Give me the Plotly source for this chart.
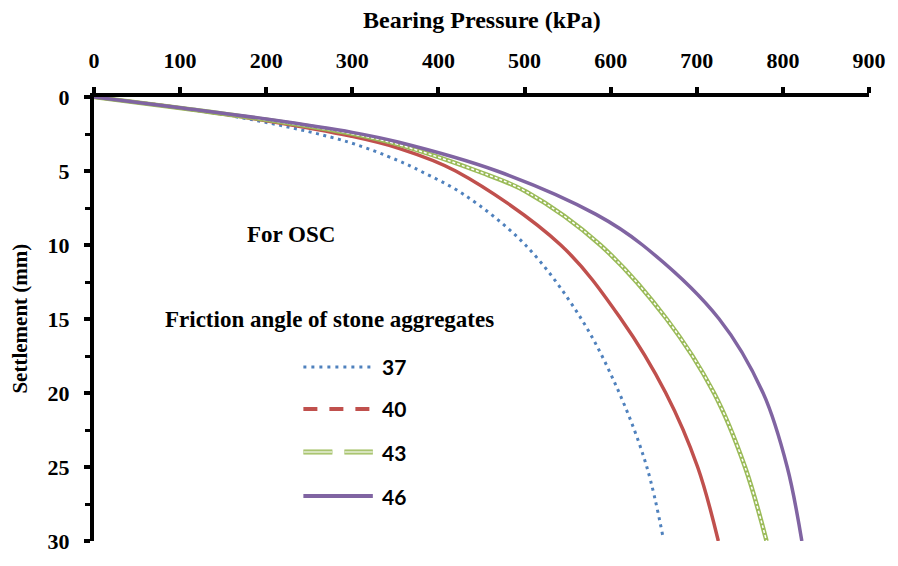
import plotly.graph_objects as go

# ---- data ----
x37 = [0, 100, 200, 295, 353, 379, 430, 501, 566, 610, 642, 661]
y37 = [0, 0.74, 1.72, 3.04, 4.29, 5.0, 6.61, 10, 15, 20, 25, 29.8]

x40 = [0, 100, 200, 298, 353, 420, 542, 612, 664, 701, 725]
y40 = [0, 0.74, 1.60, 2.64, 3.45, 5.0, 10, 15, 20, 25, 30]

x43 = [0, 100, 200, 300, 353, 445, 502, 588, 665, 720, 756, 781]
y43 = [0, 0.74, 1.54, 2.49, 3.20, 5.0, 6.4, 10, 15, 20, 25, 30]

x46 = [0, 100, 200, 300, 353, 468, 583, 637, 726, 777, 805, 822]
y46 = [0, 0.73, 1.49, 2.39, 3.04, 5.0, 7.93, 10, 15, 20, 25, 30]

series_names = ["37", "40", "43", "46"]
x_ticks = [0, 100, 200, 300, 400, 500, 600, 700, 800, 900]
y_ticks = [0, 5, 10, 15, 20, 25, 30]

BLUE = "#4F81BD"
RED = "#C0504D"
GREEN = "#9BBB59"
LGREEN = "#D7E4BD"
PURPLE = "#8064A2"

fig = go.Figure()
sm = 1.0
fig.add_trace(go.Scatter(x=x37, y=y37, mode="lines", name="37", line_shape="spline",
                         line=dict(color=BLUE, width=3, dash="3px,4.5px", smoothing=sm)))
fig.add_trace(go.Scatter(x=x40, y=y40, mode="lines", name="40", line_shape="spline",
                         line=dict(color=RED, width=3.5, smoothing=sm)))
fig.add_trace(go.Scatter(x=x43, y=y43, mode="lines", name="43", line_shape="spline",
                         line=dict(color=GREEN, width=4.5, smoothing=sm)))
fig.add_trace(go.Scatter(x=x43, y=y43, mode="lines", name="43 inner", line_shape="spline",
                         line=dict(color="white", width=1.5, dash="3px,2px", smoothing=sm),
                         showlegend=False))
fig.add_trace(go.Scatter(x=x46, y=y46, mode="lines", name="46", line_shape="spline",
                         line=dict(color=PURPLE, width=3.5, smoothing=sm)))

L, R, T, B = 94, 23, 97, 15
W, H = 898, 566
pw, ph = W - L - R, H - T - B

def px_x(p):
    return (p - L) / pw

def px_y(p):
    return 1 - (p - T) / ph

serif = "Liberation Serif"
tickfont = dict(family=serif, size=22, color="black", weight="bold")

fig.update_xaxes(side="top", range=[0, 900], tickvals=x_ticks,
                 ticktext=[str(v) for v in x_ticks],
                 showline=True, linecolor="black", linewidth=4,
                 ticks="outside", ticklen=6, tickwidth=4, tickcolor="black",
                 showgrid=False, zeroline=False, tickfont=tickfont,
                 ticklabelstandoff=10)
fig.update_yaxes(range=[30, 0], tickvals=y_ticks,
                 ticktext=[str(v) for v in y_ticks],
                 showline=True, linecolor="black", linewidth=4,
                 ticks="outside", ticklen=6, tickwidth=4, tickcolor="black",
                 minor=dict(dtick=2.5, ticks="outside", ticklen=5, tickwidth=3, tickcolor="black"),
                 showgrid=False, zeroline=False, tickfont=tickfont,
                 ticklabelstandoff=10)

annotations = [
    dict(text="Bearing Pressure (kPa)", x=px_x(485), y=px_y(18),
         font=dict(family=serif, size=24, color="black", weight="bold")),
    dict(text="Settlement (mm)", x=px_x(19), y=px_y(324), textangle=-90,
         font=dict(family=serif, size=21, color="black", weight="bold")),
    dict(text="For OSC", x=px_x(293), y=px_y(238),
         font=dict(family=serif, size=23, color="black", weight="bold")),
    dict(text="Friction angle of stone aggregates", x=px_x(331), y=px_y(324),
         font=dict(family=serif, size=23, color="black", weight="bold")),
]

# manual legend
leg_y = [373, 416, 460, 505]
shapes = []
leg_styles = [
    [dict(color=BLUE, width=3, dash="3px,5px")],
    [dict(color=RED, width=4, dash="14px,12px")],
    [dict(color=GREEN, width=5, dash="29px,12px"), dict(color=LGREEN, width=2.5, dash="29px,12px")],
    [dict(color=PURPLE, width=4)],
]
for name, py, styles in zip(series_names, leg_y, leg_styles):
    for st in styles:
        shapes.append(dict(type="line", xref="paper", yref="paper",
                           x0=px_x(305), x1=px_x(375), y0=px_y(py), y1=px_y(py),
                           line=st))
    annotations.append(dict(text=name, x=px_x(382), y=px_y(py), xanchor="left",
                            font=dict(family="Lato", size=21, color="black", weight="bold")))

for a in annotations:
    a.setdefault("xref", "paper")
    a.setdefault("yref", "paper")
    a.setdefault("showarrow", False)
    a.setdefault("xanchor", "center")
    a.setdefault("yanchor", "middle")

fig.update_layout(width=W, height=H, margin=dict(l=L, r=R, t=T, b=B),
                  plot_bgcolor="white", paper_bgcolor="white",
                  showlegend=False, annotations=annotations, shapes=shapes)

fig.write_html("out.html")
